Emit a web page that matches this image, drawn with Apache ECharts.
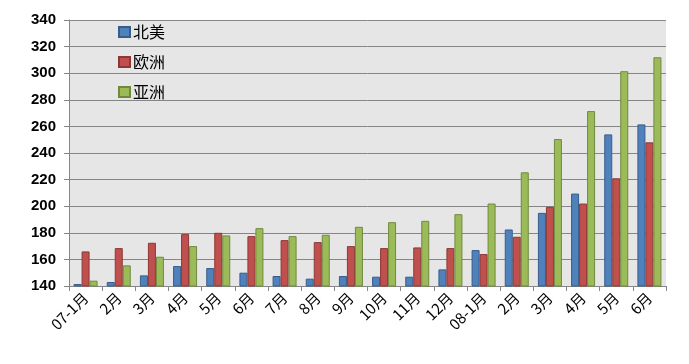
<!DOCTYPE html>
<html><head><meta charset="utf-8">
<script src="https://cdn.jsdelivr.net/npm/echarts@6/dist/echarts.min.js"></script>
<style>html,body{margin:0;padding:0;background:#fff}#c{width:689px;height:364px}</style>
</head><body><div id="c"></div>
<script>
const categories = ['07-1月','2月','3月','4月','5月','6月','7月','8月','9月','10月','11月','12月','08-1月','2月','3月','4月','5月','6月'];
const northAmerica = [141.5,143,148,155,153.5,150,147.5,145.5,147.5,147,147,152.5,167,182.5,195,209.5,254,261.5];
const europe = [166,168.5,172.5,179,180,177.5,174.5,173,170,168.5,169,168.5,164,177,199.5,202,221,248];
const asia = [144,155.5,162,170,178,183.5,177.5,178.5,184.5,188,189,194,202,225.5,250.5,271.5,301.5,312];
const seriesNames = ['北美','欧洲','亚洲'];
const yTicks = {min:140, max:340, interval:20};

const colors = ['#4F81BD','#C0504D','#9BBB59'];
const borders = ['#385D8A','#8C3836','#71893F'];
const chart = echarts.init(document.getElementById('c'));
const dataSets = [northAmerica, europe, asia];
chart.setOption({
  animation:false,
  textStyle:{fontFamily:'"Noto Sans CJK SC", "DejaVu Sans", sans-serif'},
  grid:{left:69,right:23,top:20,bottom:78,show:true,backgroundColor:'#E6E6E6',borderWidth:0},
  legend:{orient:'vertical',left:113,top:19,itemGap:14,itemWidth:11,itemHeight:10,icon:'rect',
    data:seriesNames,textStyle:{fontSize:16,color:'#000',padding:[0,0,0,-2]}},
  xAxis:{type:'category',data:categories,
    axisLine:{lineStyle:{color:'#868686'}},
    axisTick:{show:true,length:5,lineStyle:{color:'#868686'}},
    axisLabel:{rotate:45,color:'#000',fontSize:15,margin:9,interval:0,fontFamily:'"Noto Sans CJK SC", sans-serif'}},
  yAxis:{type:'value',min:yTicks.min,max:yTicks.max,interval:yTicks.interval,
    axisLine:{show:true,lineStyle:{color:'#868686'}},
    axisTick:{show:true,length:5,lineStyle:{color:'#868686'}},
    splitLine:{lineStyle:{color:'#868686',width:1}},
    axisLabel:{color:'#000',fontSize:15,fontWeight:'bold',margin:13,fontFamily:'"Liberation Sans", sans-serif'}},
  series: dataSets.map((d,i)=>({
    name:seriesNames[i],type:'bar',data:d,barGap:'0%',barWidth:8,
    itemStyle:{color:colors[i],borderColor:borders[i],borderWidth:1}
  }))
});
</script></body></html>
